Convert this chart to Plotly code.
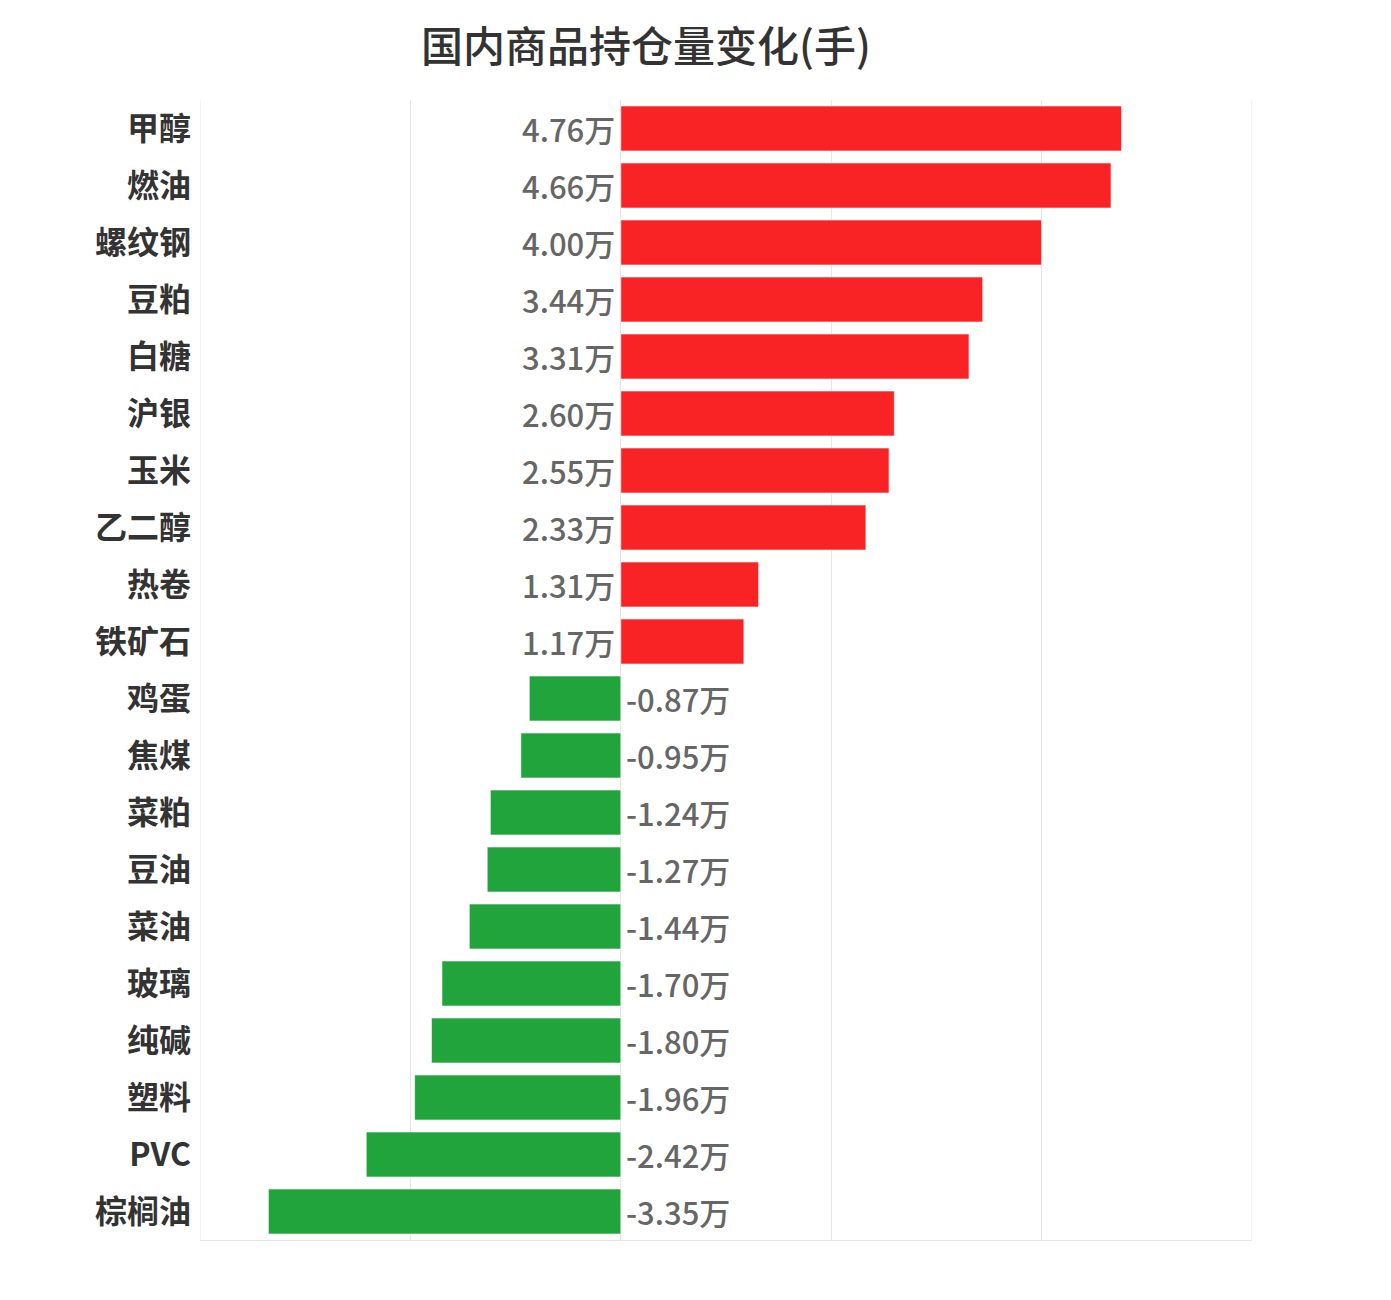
import plotly.graph_objects as go

# 品种与持仓变化(万手)
names = ["甲醇", "燃油", "螺纹钢", "豆粕", "白糖", "沪银", "玉米", "乙二醇", "热卷", "铁矿石",
         "鸡蛋", "焦煤", "菜粕", "豆油", "菜油", "玻璃", "纯碱", "塑料", "PVC", "棕榈油"]
changes = [4.76, 4.66, 4.00, 3.44, 3.31, 2.60, 2.55, 2.33, 1.31, 1.17,
           -0.87, -0.95, -1.24, -1.27, -1.44, -1.70, -1.80, -1.96, -2.42, -3.35]
grid_vals = [-4, -2, 0, 2, 4, 6]

RED = "#f92326"
GREEN = "#21a43c"
FONT = "Noto Sans CJK SC"

colors = [RED if v > 0 else GREEN for v in changes]

fig = go.Figure()
fig.add_trace(go.Bar(
    x=changes, y=names, orientation="h",
    marker=dict(color=colors, line=dict(color="rgba(255,255,255,0.6)", width=1)),
    hoverinfo="skip", showlegend=False,
))

# 数值标签: 正值放在零轴左侧, 负值放在右侧
for name, v in zip(names, changes):
    fig.add_annotation(
        x=0, y=name, text="%.2f万" % v, showarrow=False,
        xanchor="right" if v > 0 else "left",
        xshift=-4 if v > 0 else 3, yshift=0,
        font=dict(family=FONT, size=31, color="#666666", weight=500),
    )

# 两侧边框竖线
for gx in (grid_vals[0], grid_vals[-1]):
    fig.add_shape(type="line", x0=gx, x1=gx, y0=0, y1=1, yref="paper",
                  line=dict(color="#e6e6e6", width=1), layer="below")

fig.update_layout(
    width=1391, height=1300,
    paper_bgcolor="white", plot_bgcolor="white",
    margin=dict(l=192, r=147, t=92, b=68),
    bargap=0.21,
    title=dict(text="国内商品持仓量变化(手)", x=0.4587, xanchor="center", y=0.970, yanchor="middle",
               font=dict(family=FONT, size=42, color="#333333", weight=500)),
)
fig.update_xaxes(range=[grid_vals[0], grid_vals[-1]], tickvals=grid_vals, showticklabels=False,
                 showgrid=True, gridcolor="#e6e6e6", gridwidth=1, zeroline=False,
                 showline=True, linecolor="#e6e6e6", fixedrange=True)
fig.update_yaxes(categoryorder="array", categoryarray=names, range=[19.5, -0.5],
                 tickfont=dict(family=FONT, size=32, color="#333333", weight="bold"),
                 ticks="", ticklabelstandoff=8, showgrid=False, zeroline=False, showline=False)

fig.write_html("out.html")
